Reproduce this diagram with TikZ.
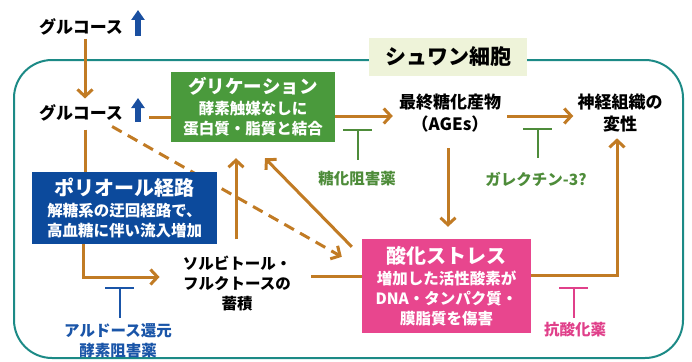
\documentclass[tikz,border=0pt]{standalone}
\usepackage{fontspec}
\setmainfont{Noto Sans CJK JP}
\usetikzlibrary{arrows.meta,backgrounds,calc}
\definecolor{ora}{HTML}{C17B24}
\definecolor{cellc}{HTML}{1C8A86}
\definecolor{lab}{HTML}{EEF3D9}
\definecolor{gbox}{HTML}{4A9A3C}
\definecolor{gtxt}{HTML}{4E8C3A}
\definecolor{bbox}{HTML}{0C4A9C}
\definecolor{btxt}{HTML}{1A55A8}
\definecolor{pbox}{HTML}{E8468E}
\definecolor{ptxt}{HTML}{E0408A}
\definecolor{uarr}{HTML}{1A4FA0}
\tikzset{
  body/.style={font=\bfseries\fontsize{15.5}{20}\selectfont},
  plain/.style={body, inner sep=0pt, align=center},
  big/.style={font=\bfseries\fontsize{17}{22}\selectfont, inner sep=0pt, align=center},
  boxnode/.style={body, text=white, align=center, inner sep=0pt},
  oline/.style={draw=ora, line width=3pt},
  oarr/.style={oline, -{Straight Barb[length=7pt,width=15pt]}},
  upar/.style={draw=uarr, line width=5.5pt, -{Triangle[length=10pt,width=13pt]}},
  inhG/.style={draw=gtxt, line width=2pt},
  inhB/.style={draw=btxt, line width=2pt},
  inhP/.style={draw=ptxt, line width=2pt},
}
\newcommand\ttl[1]{{\fontsize{20}{24}\selectfont #1}\\[1pt]}
\begin{document}
\begin{tikzpicture}[x=1pt,y=-1pt]
\useasboundingbox (0,0) rectangle (692,361);

% nodes
\node[big] (g1) at (81,27) {グルコース};
\node[big] (g2) at (81,113) {グルコース};
\node[boxnode, fill=gbox, minimum width=164pt, minimum height=70pt] (gly) at (253,107)
  {{\fontsize{18.5}{22}\selectfont グリケーション}\\[1pt]酵素触媒なしに\\蛋白質・脂質と結合};
\node[big] (ages) at (450,113) {最終糖化産物\\（AGEs）};
\node[big] (nerve) at (620,113) {神経組織の\\変性};
\node[boxnode, fill=bbox, minimum width=185pt, minimum height=72pt] (poly) at (124.5,208)
  {\ttl{ポリオール経路}解糖系の迂回経路で、\\高血糖に伴い流入増加};
\node[plain] (sorb) at (237,284) {ソルビトール・\\フルクトースの\\蓄積};
\node[boxnode, fill=pbox, minimum width=169pt, minimum height=94pt] (ox) at (446.5,286)
  {\ttl{酸化ストレス}増加した活性酸素が\\DNA・タンパク質・\\膜脂質を傷害};
\node[fill=lab, minimum width=158pt, minimum height=37pt, inner sep=0pt,
  font=\bfseries\fontsize{21}{24}\selectfont] (cell) at (448,57) {シュワン細胞};
\node[plain, text=gtxt] (l1) at (357,179) {糖化阻害薬};
\node[plain, text=gtxt] (l2) at (536,179) {ガレクチン-3?};
\node[plain, text=ptxt] (l3) at (575,330) {抗酸化薬};
\node[plain, text=btxt] (l4) at (118,341) {アルドース還元\\酵素阻害薬};

\begin{scope}[on background layer]
  \draw[cellc, line width=2pt, rounded corners=38pt] (14,60) rectangle (683,358);
  \draw[oarr, dash pattern=on 11pt off 7pt]
    ([xshift=-11pt,yshift=-5pt]g2.south east) -- ([xshift=-20pt,yshift=-18pt]ox.north west);
\end{scope}

% blue up arrows
\draw[upar] ([xshift=57pt,yshift=-9pt]g1.center) -- ([xshift=57pt,yshift=17pt]g1.center);
\draw[upar] ([xshift=57pt,yshift=-9pt]g2.center) -- ([xshift=57pt,yshift=15pt]g2.center);

% connectors
\draw[oarr, shorten <=3pt, shorten >=6pt] ([xshift=4pt]g1.south) -- ([xshift=4pt]g2.north);
\draw[oline] ([xshift=26pt,yshift=-4pt]g2.east) -- ([yshift=-4pt]g2.east -| gly.west);
\draw[oarr, shorten >=6pt] ([yshift=-3pt]gly.east |- ages.west) -- ([yshift=-3pt]ages.west);
\draw[oarr, shorten <=6pt, shorten >=4pt] ([yshift=-3pt]ages.east) -- ([yshift=-3pt]nerve.west);
\draw[oarr, shorten <=16pt, shorten >=12pt] ([xshift=-2pt]ages.south) -- ([xshift=-2pt]ages.south |- ox.north);
\draw[oarr, shorten >=6pt] ([yshift=11pt]ox.east) -| ([xshift=-3pt]nerve.south);
\draw[oline, shorten <=8pt] ([xshift=4pt]g2.south) -- ([xshift=4pt]g2.south |- poly.north);
\draw[oarr, shorten >=23pt] ([xshift=-41.5pt]poly.south) |- ([yshift=7pt]sorb.west);
\draw[oarr, shorten <=17pt, shorten >=16pt] ([xshift=-1pt]sorb.north) -- ([xshift=-1pt]sorb.north |- gly.south);
\draw[oline, shorten <=20pt] ([yshift=8pt]sorb.east) -- ([yshift=8pt]sorb.east -| ox.west);
\draw[oarr] ([xshift=-10pt,yshift=-8pt]ox.north west) -- ([xshift=12pt,yshift=-16pt]gly.south);

% inhibitor symbols
\draw[inhG] (343,130) -- (372,130) (357.5,130) -- (357.5,160);
\draw[inhG] (523,129) -- (552,129) (537.5,129) -- (537.5,158);
\draw[inhP] (559,288) -- (588,288) (573.5,288) -- (573.5,318);
\draw[inhB] (105,288) -- (134,288) (119.5,288) -- (119.5,318);
\end{tikzpicture}
\end{document}
